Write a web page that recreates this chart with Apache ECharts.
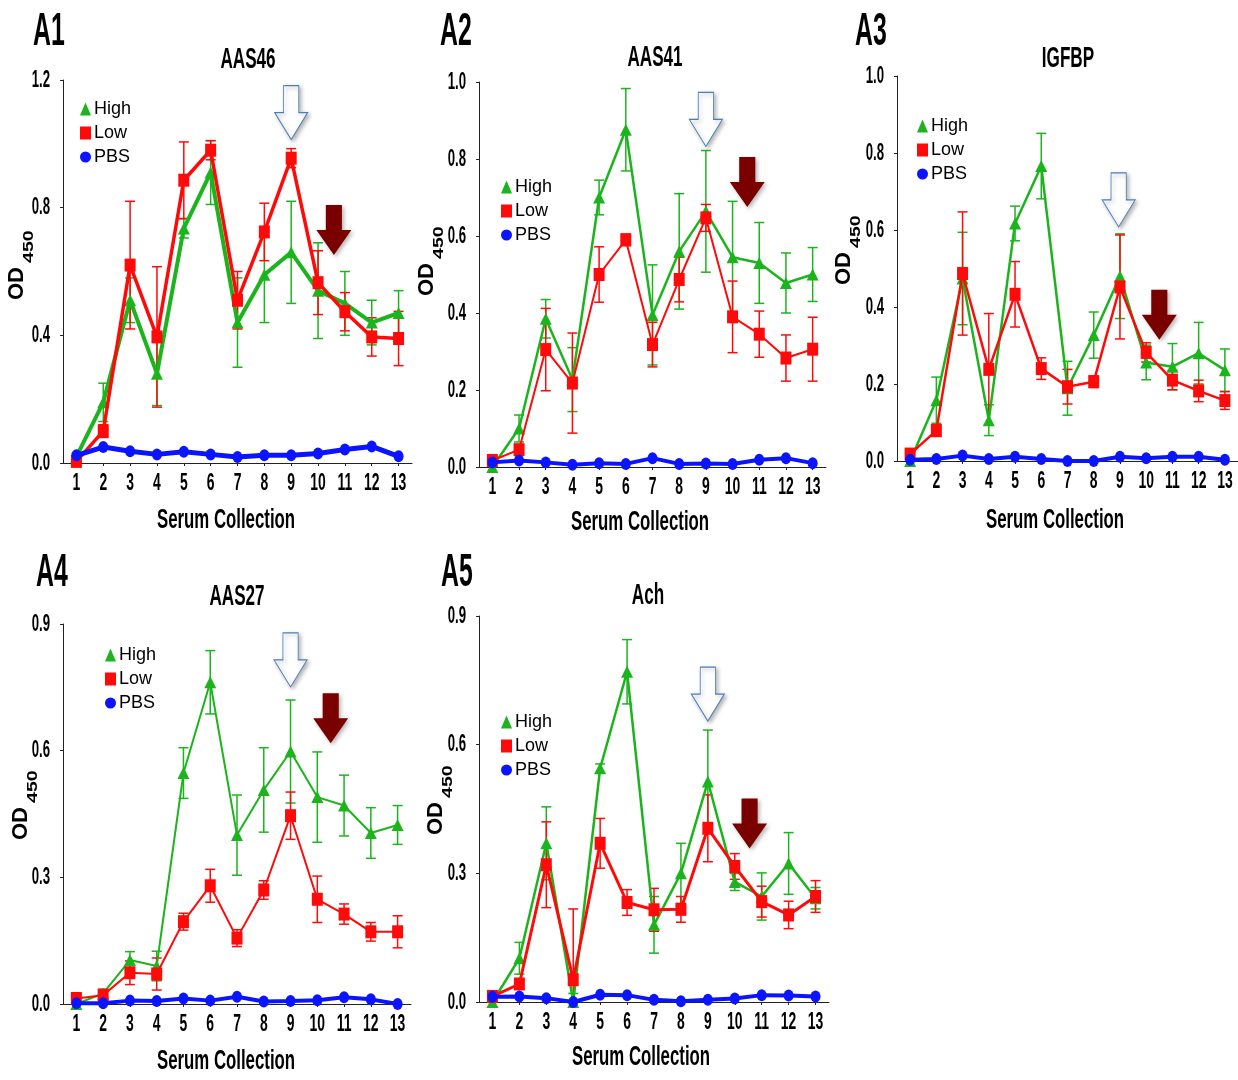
<!DOCTYPE html>
<html>
<head>
<meta charset="utf-8">
<title>Serum OD450 time course</title>
<script src="https://cdn.jsdelivr.net/npm/echarts@6/dist/echarts.min.js"></script>
<style>
  html, body { margin: 0; padding: 0; background: #fff; }
  #chart { width: 1238px; height: 1080px; }
</style>
</head>
<body>
<div id="chart"></div>
<script>
// Serum collection numbers along every x axis
const categories = ['1', '2', '3', '4', '5', '6', '7', '8', '9', '10', '11', '12', '13'];

// A1 - AAS46
const aas46High    = [0.02, 0.19, 0.51, 0.28, 0.735, 0.91, 0.44, 0.59, 0.66, 0.54, 0.50, 0.44, 0.47];
const aas46HighErr = [0.01, 0.06, 0.07, 0.10, 0.03, 0.10, 0.14, 0.15, 0.16, 0.15, 0.10, 0.07, 0.07];
const aas46Low     = [0.005, 0.10, 0.62, 0.395, 0.886, 0.98, 0.51, 0.724, 0.955, 0.565, 0.474, 0.395, 0.39];
const aas46LowErr  = [0.01, 0.02, 0.20, 0.22, 0.12, 0.03, 0.09, 0.09, 0.03, 0.10, 0.06, 0.06, 0.085];
const aas46Pbs     = [0.024, 0.05, 0.037, 0.027, 0.035, 0.027, 0.019, 0.024, 0.024, 0.03, 0.042, 0.052, 0.021];

// A2 - AAS41
const aas41High    = [0.0, 0.10, 0.385, 0.227, 0.70, 0.876, 0.395, 0.56, 0.664, 0.545, 0.53, 0.478, 0.50];
const aas41HighErr = [0.01, 0.035, 0.05, 0.083, 0.045, 0.107, 0.13, 0.15, 0.158, 0.145, 0.105, 0.078, 0.07];
const aas41Low     = [0.017, 0.045, 0.305, 0.218, 0.50, 0.59, 0.318, 0.487, 0.647, 0.39, 0.345, 0.283, 0.306];
const aas41LowErr  = [0.01, 0.01, 0.107, 0.13, 0.072, 0.015, 0.058, 0.058, 0.035, 0.093, 0.06, 0.06, 0.083];
const aas41Pbs     = [0.012, 0.017, 0.012, 0.006, 0.01, 0.008, 0.023, 0.008, 0.009, 0.008, 0.019, 0.023, 0.01];

// A3 - IGFBP
const igfbpHigh    = [0.0, 0.158, 0.474, 0.106, 0.617, 0.766, 0.189, 0.327, 0.48, 0.256, 0.245, 0.28, 0.236];
const igfbpHighErr = [0.01, 0.06, 0.12, 0.04, 0.045, 0.085, 0.07, 0.06, 0.11, 0.045, 0.06, 0.08, 0.055];
const igfbpLow     = [0.018, 0.079, 0.487, 0.238, 0.433, 0.24, 0.193, 0.206, 0.452, 0.282, 0.21, 0.182, 0.157];
const igfbpLowErr  = [0.01, 0.015, 0.16, 0.145, 0.085, 0.028, 0.045, 0.015, 0.135, 0.025, 0.025, 0.028, 0.023];
const igfbpPbs     = [0.003, 0.005, 0.014, 0.005, 0.011, 0.005, 0.0, 0.0, 0.011, 0.007, 0.011, 0.011, 0.003];

// A4 - AAS27
const aas27High    = [0.0, 0.025, 0.104, 0.09, 0.547, 0.762, 0.40, 0.507, 0.598, 0.49, 0.47, 0.405, 0.424];
const aas27HighErr = [0.005, 0.01, 0.02, 0.035, 0.06, 0.075, 0.095, 0.10, 0.122, 0.107, 0.072, 0.06, 0.046];
const aas27Low     = [0.013, 0.021, 0.074, 0.071, 0.195, 0.28, 0.156, 0.27, 0.446, 0.248, 0.213, 0.171, 0.171];
const aas27LowErr  = [0.01, 0.01, 0.028, 0.038, 0.02, 0.039, 0.02, 0.022, 0.056, 0.055, 0.024, 0.022, 0.038];
const aas27Pbs     = [0.002, 0.002, 0.008, 0.007, 0.013, 0.008, 0.017, 0.006, 0.007, 0.009, 0.016, 0.011, 0.0];

// A5 - Ach
const achHigh      = [0.0, 0.102, 0.37, 0.0, 0.545, 0.77, 0.18, 0.30, 0.514, 0.28, 0.246, 0.323, 0.242];
const achHighErr   = [0.01, 0.037, 0.085, 0.02, 0.01, 0.075, 0.066, 0.07, 0.12, 0.02, 0.055, 0.072, 0.025];
const achLow       = [0.013, 0.042, 0.32, 0.052, 0.37, 0.232, 0.215, 0.216, 0.405, 0.316, 0.234, 0.203, 0.246];
const achLowErr    = [0.01, 0.01, 0.10, 0.165, 0.058, 0.03, 0.05, 0.03, 0.078, 0.03, 0.036, 0.032, 0.037];
const achPbs       = [0.012, 0.013, 0.009, 0.0, 0.017, 0.016, 0.005, 0.002, 0.005, 0.008, 0.016, 0.015, 0.013];

// Y-axis tick settings per panel
const yMax      = [1.2, 1.0, 1.0, 0.9, 0.9];
const yInterval = [0.4, 0.2, 0.2, 0.3, 0.3];

const GREEN = '#1cb41c';
const RED = '#ff0a0a';
const BLUE = '#0a14ff';

const SANS = '"Liberation Sans", Arial, sans-serif';

// Panel layout and styling
const panels = [
  { tag: 'A1', title: 'AAS46', high: aas46High, highErr: aas46HighErr, low: aas46Low, lowErr: aas46LowErr, pbs: aas46Pbs,
    grid: { left: 63, top: 80, width: 349, height: 383 },
    tagPos: [49, 55], titlePos: [248, 74], xNamePos: [226, 534], odPos: [28, 300],
    legendPos: [80, 100], widths: [4, 3.5, 5],
    whiteArrow: [9, 1.098], darkArrow: [10.59, 0.73] },
  { tag: 'A2', title: 'AAS41', high: aas41High, highErr: aas41HighErr, low: aas41Low, lowErr: aas41LowErr, pbs: aas41Pbs,
    grid: { left: 479, top: 82, width: 347, height: 385 },
    tagPos: [456, 55], titlePos: [655, 72], xNamePos: [640, 536], odPos: [438, 296],
    legendPos: [501, 178], widths: [2.5, 2, 4],
    whiteArrow: [9, 0.903], darkArrow: [10.55, 0.74] },
  { tag: 'A3', title: 'IGFBP', high: igfbpHigh, highErr: igfbpHighErr, low: igfbpLow, lowErr: igfbpLowErr, pbs: igfbpPbs,
    grid: { left: 897, top: 76, width: 341, height: 385 },
    tagPos: [871, 55], titlePos: [1068, 73], xNamePos: [1055, 534], odPos: [855, 285],
    legendPos: [917, 117], widths: [2.5, 2.5, 4],
    whiteArrow: [8.95, 0.678], darkArrow: [10.5, 0.38] },
  { tag: 'A4', title: 'AAS27', high: aas27High, highErr: aas27HighErr, low: aas27Low, lowErr: aas27LowErr, pbs: aas27Pbs,
    grid: { left: 63, top: 624, width: 348, height: 380 },
    tagPos: [52, 596], titlePos: [237, 611], xNamePos: [226, 1075], odPos: [32, 840],
    legendPos: [105, 646], widths: [2, 2, 4],
    whiteArrow: [9, 0.815], darkArrow: [10.5, 0.677] },
  { tag: 'A5', title: 'Ach', high: achHigh, highErr: achHighErr, low: achLow, lowErr: achLowErr, pbs: achPbs,
    grid: { left: 479, top: 616, width: 350, height: 386 },
    tagPos: [457, 596], titlePos: [648, 610], xNamePos: [641, 1071], odPos: [447, 835],
    legendPos: [501, 713], widths: [2.5, 3, 4],
    whiteArrow: [9, 0.718], darkArrow: [10.55, 0.416] }
];

const ARROW_PATH = 'path://M27,0L73,0L73,50L100,50L50,100L0,50L27,50Z';

// condensed bold lettering used for tick labels, titles and axis names
function condensedText(x, y, text, size, scaleX, align, vAlign) {
  return {
    type: 'text', x: x, y: y, scaleX: scaleX, silent: true,
    style: { text: text, fontFamily: SANS, fontWeight: 'bold', fontSize: size, fill: '#000',
      align: align, verticalAlign: vAlign, textAlign: align, textVerticalAlign: vAlign }
  };
}

function errorBars(name, mean, err, color, gi, z) {
  return {
    type: 'custom',
    name: name,
    xAxisIndex: 2 * gi,
    yAxisIndex: gi,
    z: z,
    silent: true,
    data: mean.map((m, i) => [i, m - err[i], m + err[i]]),
    renderItem(params, api) {
      const x = api.value(0);
      const clipped = api.value(1) < 0;
      const lo = api.coord([x, Math.max(0, api.value(1))]);
      const hi = api.coord([x, api.value(2)]);
      const w = 5;
      const style = { stroke: color, lineWidth: 1.5, fill: null };
      const children = [
        { type: 'line', shape: { x1: lo[0], y1: lo[1], x2: hi[0], y2: hi[1] }, style: style },
        { type: 'line', shape: { x1: hi[0] - w, y1: hi[1], x2: hi[0] + w, y2: hi[1] }, style: style }
      ];
      if (!clipped) {
        children.push({ type: 'line', shape: { x1: lo[0] - w, y1: lo[1], x2: lo[0] + w, y2: lo[1] }, style: style });
      }
      return { type: 'group', children: children };
    }
  };
}

const grids = [], xAxes = [], yAxes = [], series = [], legends = [], graphics = [];

panels.forEach((p, gi) => {
  grids.push(Object.assign({ containLabel: false }, p.grid));

  xAxes.push({
    type: 'category', gridIndex: gi, data: categories, boundaryGap: true,
    axisLine: { lineStyle: { color: '#222', width: 1 } },
    axisTick: { show: true, alignWithLabel: true, length: 3, lineStyle: { color: '#222' } },
    axisLabel: { show: false },
    splitLine: { show: false }
  });
  // companion axis spanning the same width, used for placing the annotation arrows
  xAxes.push({ type: 'value', gridIndex: gi, min: 0.5, max: 13.5, show: false });

  yAxes.push({
    type: 'value', gridIndex: gi, min: 0, max: yMax[gi], interval: yInterval[gi],
    axisLine: { show: true, lineStyle: { color: '#222', width: 1 } },
    axisTick: { show: true, length: 3, lineStyle: { color: '#222' } },
    axisLabel: { show: false },
    splitLine: { show: false }
  });

  const [wHigh, wLow, wPbs] = p.widths;

  series.push(errorBars('High error', p.high, p.highErr, GREEN, gi, 2));
  series.push(errorBars('Low error', p.low, p.lowErr, RED, gi, 3));

  series.push({
    type: 'line', name: 'High', xAxisIndex: 2 * gi, yAxisIndex: gi, data: p.high, z: 4,
    symbol: 'triangle', symbolSize: [12, 12], showAllSymbol: true,
    lineStyle: { color: GREEN, width: wHigh }, itemStyle: { color: GREEN }
  });
  series.push({
    type: 'line', name: 'Low', xAxisIndex: 2 * gi, yAxisIndex: gi, data: p.low, z: 5,
    symbol: 'rect', symbolSize: [11, 13], showAllSymbol: true,
    lineStyle: { color: RED, width: wLow }, itemStyle: { color: RED }
  });
  series.push({
    type: 'line', name: 'PBS', xAxisIndex: 2 * gi, yAxisIndex: gi, data: p.pbs, z: 6,
    symbol: 'circle', symbolSize: [10, 12], showAllSymbol: true,
    lineStyle: { color: BLUE, width: wPbs }, itemStyle: { color: BLUE }
  });

  // boost arrows: open arrow over the peak, solid arrow after it
  series.push({
    type: 'scatter', name: 'boost', xAxisIndex: 2 * gi + 1, yAxisIndex: gi, z: 8, silent: true,
    data: [p.whiteArrow], symbol: ARROW_PATH, symbolSize: [33, 54],
    itemStyle: { color: '#ffffff', opacity: 1, borderColor: '#4a7ebb', borderWidth: 1,
      shadowColor: 'rgba(0,0,0,0.3)', shadowBlur: 4, shadowOffsetX: 2, shadowOffsetY: 2 }
  });
  series.push({
    type: 'scatter', name: 'challenge', xAxisIndex: 2 * gi + 1, yAxisIndex: gi, z: 8, silent: true,
    data: [p.darkArrow], symbol: ARROW_PATH, symbolSize: [35, 50],
    itemStyle: { color: '#7a0000', opacity: 1,
      shadowColor: 'rgba(0,0,0,0.3)', shadowBlur: 4, shadowOffsetX: 2, shadowOffsetY: 2 }
  });

  legends.push({
    orient: 'vertical', left: p.legendPos[0], top: p.legendPos[1], padding: 0,
    itemWidth: 11, itemHeight: 13, itemGap: 6, selectedMode: false,
    textStyle: { fontFamily: SANS, fontSize: 18, color: '#000', padding: [0, 0, 0, -2] },
    data: [
      { name: 'High', icon: 'triangle', itemStyle: { color: GREEN } },
      { name: 'Low', icon: 'rect', itemStyle: { color: RED } },
      { name: 'PBS', icon: 'circle', itemStyle: { color: BLUE } }
    ]
  });

  // panel tag, title and axis names
  graphics.push(condensedText(p.tagPos[0], p.tagPos[1], p.tag, 46, 0.54, 'center', 'bottom'));
  graphics.push(condensedText(p.titlePos[0], p.titlePos[1], p.title, 29, 0.59, 'center', 'bottom'));
  graphics.push(condensedText(p.xNamePos[0], p.xNamePos[1], 'Serum Collection', 28, 0.6, 'center', 'bottom'));
  graphics.push({ type: 'text', x: p.odPos[0], y: p.odPos[1], rotation: Math.PI / 2, silent: true,
    style: { text: 'OD', fontFamily: SANS, fontWeight: 'bold', fontSize: 22, fill: '#000',
      align: 'left', verticalAlign: 'bottom', textAlign: 'left', textVerticalAlign: 'bottom' } });
  graphics.push({ type: 'text', x: p.odPos[0] + 8, y: p.odPos[1] - 37, rotation: Math.PI / 2, scaleX: 1.4, silent: true,
    style: { text: '450', fontFamily: SANS, fontWeight: 'bold', fontSize: 14, fill: '#000',
      align: 'left', verticalAlign: 'bottom', textAlign: 'left', textVerticalAlign: 'bottom' } });
});

const chart = echarts.init(document.getElementById('chart'), null, { renderer: 'canvas', width: 1238, height: 1080 });
chart.setOption({
  backgroundColor: '#ffffff',
  animation: false,
  grid: grids,
  xAxis: xAxes,
  yAxis: yAxes,
  legend: legends,
  series: series,
  graphic: graphics
});

// Tick labels in the narrow lettering, placed at the axes' own tick positions
panels.forEach((p, gi) => {
  const yZero = chart.convertToPixel({ yAxisIndex: gi }, 0);
  const xLeft = chart.convertToPixel({ xAxisIndex: 2 * gi + 1 }, 0.5);
  categories.forEach(c => {
    const x = chart.convertToPixel({ xAxisIndex: 2 * gi }, c);
    graphics.push(condensedText(x, yZero + 20, c, 24, 0.58, 'center', 'middle'));
  });
  const steps = Math.round(yMax[gi] / yInterval[gi]);
  for (let k = 0; k <= steps; k++) {
    const v = k * yInterval[gi];
    const y = chart.convertToPixel({ yAxisIndex: gi }, v);
    graphics.push(condensedText(xLeft - 13, y, v.toFixed(1), 24, 0.55, 'right', 'middle'));
  }
});
chart.setOption({ graphic: graphics });
</script>
</body>
</html>
